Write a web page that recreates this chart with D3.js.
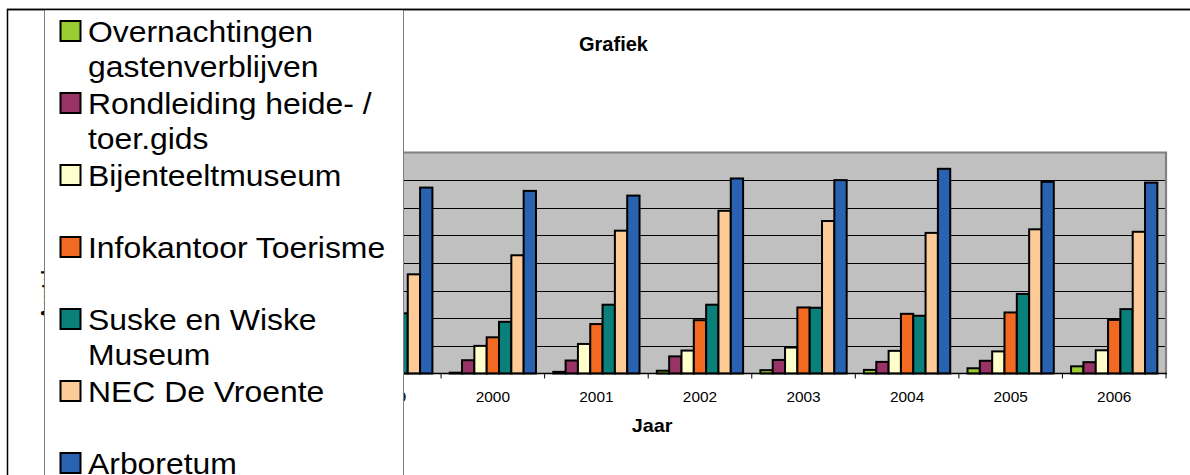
<!DOCTYPE html>
<html>
<head>
<meta charset="utf-8">
<script src="https://cdn.jsdelivr.net/npm/d3@7"></script>
<style>
  html, body { margin: 0; padding: 0; background: #ffffff; }
  svg { display: block; }
  text { font-family: "Liberation Sans", Arial, sans-serif; }
</style>
</head>
<body>
<svg id="chart" width="1190" height="475"></svg>
<script>
// ---- data ----
const years = ["1999", "2000", "2001", "2002", "2003", "2004", "2005", "2006"];
const seriesNames = [
  "Overnachtingen gastenverblijven",
  "Rondleiding heide- / toer.gids",
  "Bijenteeltmuseum",
  "Infokantoor Toerisme",
  "Suske en Wiske Museum",
  "NEC De Vroente",
  "Arboretum"
];
const overnachtingen = [100, 150, 300, 500, 600, 650, 950, 1300];
const rondleiding    = [2200, 2400, 2350, 3100, 2450, 2100, 2300, 2050];
const bijenteelt     = [4500, 5000, 5350, 4150, 4700, 4100, 4000, 4200];
const infokantoor    = [6000, 6550, 8950, 9650, 11950, 10800, 11050, 9700];
const suskeWiske     = [10900, 9350, 12450, 12450, 11900, 10450, 14400, 11650];
const vroente        = [17950, 21400, 25850, 29450, 27600, 25450, 26100, 25650];
const arboretum      = [33650, 33050, 32200, 35300, 35000, 37050, 34700, 34550];
const yTicks = [0, 5000, 10000, 15000, 20000, 25000, 30000, 35000, 40000];
const chartTitle = "Grafiek";
const xTitle = "Jaar";
const yTitle = "Aantal";

const seriesValues = [overnachtingen, rondleiding, bijenteelt, infokantoor, suskeWiske, vroente, arboretum];
const colors = ["#99CC33", "#993366", "#FFFFCC", "#F26A21", "#0A807B", "#FCCB98", "#2962B0"];

// ---- layout ----
const W = 1190, H = 475;
const plot = { left: 337.5, right: 1166, top: 152.5, bottom: 373.5 };
const SX = 1.1; // horizontal text stretch seen in the reference
const FONT = '"Liberation Sans", Arial, sans-serif';

const svg = d3.select("#chart");
svg.append("rect").attr("x", 0).attr("y", 0).attr("width", W).attr("height", H).attr("fill", "#ffffff");

// outer chart border
svg.append("rect")
  .attr("x", 7.5).attr("y", 9.5).attr("width", W + 20).attr("height", H + 20)
  .attr("fill", "none").attr("stroke", "#000").attr("stroke-width", 1.5);

// scales
const x0 = d3.scaleBand().domain(years).range([plot.left, plot.right])
  .paddingInner(0.167).paddingOuter(0.0835);
const x1 = d3.scaleBand().domain(seriesNames).range([0, x0.bandwidth()]);
const y = d3.scaleLinear().domain([yTicks[0], yTicks[yTicks.length - 1]]).range([plot.bottom, plot.top]);

// plot background
svg.append("rect")
  .attr("x", plot.left).attr("y", plot.top)
  .attr("width", plot.right - plot.left).attr("height", plot.bottom - plot.top)
  .attr("fill", "#C0C0C0");

// gridlines
svg.append("g").selectAll("line")
  .data(yTicks.slice(1, -1))
  .join("line")
  .attr("x1", plot.left).attr("x2", plot.right)
  .attr("y1", d => Math.round(y(d)) + 0.5).attr("y2", d => Math.round(y(d)) + 0.5)
  .attr("stroke", "#000").attr("stroke-width", 1);

// plot border top & right (gray)
svg.append("path")
  .attr("d", `M${plot.left},${plot.top} H${plot.right} V${plot.bottom}`)
  .attr("fill", "none").attr("stroke", "#808080").attr("stroke-width", 2.2);

// bars
const groups = svg.append("g").selectAll("g")
  .data(years)
  .join("g")
  .attr("transform", d => `translate(${x0(d)},0)`);

groups.selectAll("rect")
  .data((yr, i) => seriesNames.map((s, k) => ({ s, k, v: seriesValues[k][i] })))
  .join("rect")
  .attr("x", d => x1(d.s))
  .attr("width", x1.bandwidth())
  .attr("y", d => y(d.v))
  .attr("height", d => y(0) - y(d.v))
  .attr("fill", d => colors[d.k])
  .attr("stroke", "#000")
  .attr("stroke-width", 2);

// x axis
const xAxis = d3.axisBottom(x0).tickSize(0).tickPadding(0);
const gx = svg.append("g").attr("transform", `translate(0,${plot.bottom})`).call(xAxis);
gx.select(".domain").remove();
gx.selectAll("text")
  .attr("y", 28.2).attr("dy", 0)
  .attr("font-size", 14).attr("font-family", FONT).attr("fill", "#000")
  .attr("transform", `scale(${SX},1)`);

svg.append("line")
  .attr("x1", plot.left).attr("x2", plot.right + 1)
  .attr("y1", plot.bottom).attr("y2", plot.bottom)
  .attr("stroke", "#000").attr("stroke-width", 1.5);

// boundary ticks between categories
svg.append("g").selectAll("line")
  .data(d3.range(years.length + 1))
  .join("line")
  .attr("x1", i => plot.left + i * x0.step()).attr("x2", i => plot.left + i * x0.step())
  .attr("y1", plot.bottom).attr("y2", plot.bottom + 5)
  .attr("stroke", "#000").attr("stroke-width", 1);

// titles
function stretchedText(x, yy, str, size, weight, sx) {
  return svg.append("text")
    .attr("transform", `translate(${x},${yy}) scale(${sx || SX},1)`)
    .attr("text-anchor", "middle")
    .attr("font-size", size)
    .attr("font-weight", weight || "normal")
    .attr("font-family", FONT)
    .attr("fill", "#000")
    .text(str);
}
stretchedText(613.5, 51, chartTitle, 20, "bold", 1.0);
stretchedText(652, 431.7, xTitle, 18, "bold");

// y-axis title (almost fully hidden behind the legend)
svg.append("text")
  .attr("transform", `translate(53,319) rotate(-90)`)
  .attr("text-anchor", "start")
  .attr("font-size", 16).attr("font-weight", "bold").attr("font-family", FONT)
  .attr("fill", "#000")
  .text(yTitle);

// ---- legend ----
const legend = svg.append("g");
legend.append("rect")
  .attr("x", 44.5).attr("y", 9.5).attr("width", 359).attr("height", 500)
  .attr("fill", "#ffffff").attr("stroke", "#808080").attr("stroke-width", 1);
// chart top border over legend top
svg.append("line").attr("x1", 7).attr("x2", W).attr("y1", 9.5).attr("y2", 9.5)
  .attr("stroke", "#000").attr("stroke-width", 1.5);

const legendTextX = 88, legendFont = 29, lineH = 35, entryStep = 72;
const maxTextW = 313;

function wrapWords(str) {
  const probe = svg.append("text").attr("font-size", legendFont).attr("font-family", FONT).attr("visibility", "hidden");
  const words = str.split(" ");
  const lines = [];
  let cur = "";
  for (const w of words) {
    const test = cur ? cur + " " + w : w;
    probe.text(test);
    const wpx = probe.node().getComputedTextLength() * SX;
    if (wpx > maxTextW && cur) { lines.push(cur); cur = w; } else { cur = test; }
  }
  if (cur) lines.push(cur);
  probe.remove();
  return lines;
}

seriesNames.forEach((name, i) => {
  const top = 21 + i * entryStep;
  legend.append("rect")
    .attr("x", 60.5).attr("y", top)
    .attr("width", 20).attr("height", 20)
    .attr("fill", colors[i]).attr("stroke", "#000").attr("stroke-width", 2);
  const lines = wrapWords(name);
  lines.forEach((ln, j) => {
    legend.append("text")
      .attr("transform", `translate(${legendTextX},${top + 20.5 + j * lineH}) scale(${SX},1)`)
      .attr("font-size", legendFont).attr("font-family", FONT).attr("fill", "#000")
      .text(ln);
  });
});
</script>
</body>
</html>
